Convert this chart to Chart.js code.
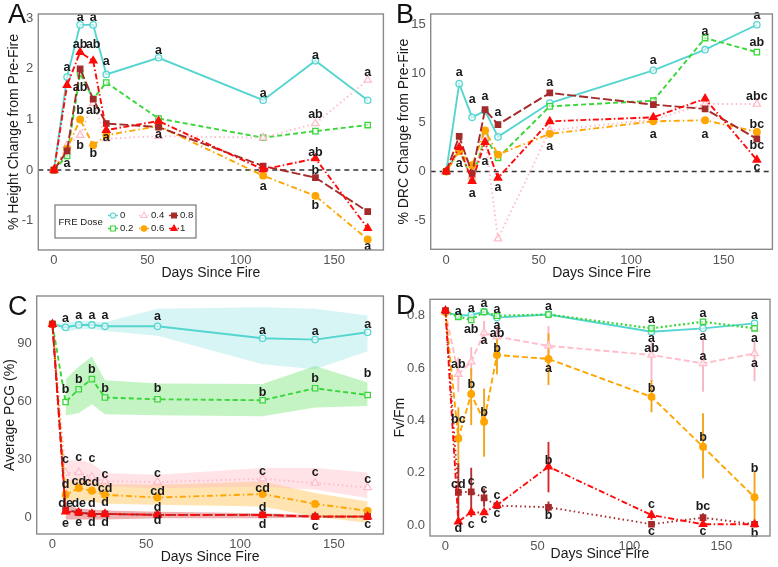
<!DOCTYPE html>
<html>
<head>
<meta charset="utf-8">
<script src="https://cdn.jsdelivr.net/npm/chart.js@4.4.1/dist/chart.umd.min.js"></script>
<style>
  body { margin: 0; background: #fff; width: 778px; height: 567px; position: relative; overflow: hidden;
         font-family: "Liberation Sans", Arial, sans-serif; }
  canvas { position: absolute; }
  .tag { position: absolute; font-size: 27px; line-height: 1; color: #111; }
</style>
</head>
<body>
<canvas id="chartA" width="389" height="280" style="left:0;top:0"></canvas>
<canvas id="chartB" width="389" height="280" style="left:389px;top:0"></canvas>
<canvas id="chartC" width="389" height="287" style="left:0;top:280px"></canvas>
<canvas id="chartD" width="389" height="287" style="left:389px;top:280px"></canvas>
<div class="tag" style="left:8px;top:1px">A</div>
<div class="tag" style="left:396px;top:1px">B</div>
<div class="tag" style="left:8px;top:293px">C</div>
<div class="tag" style="left:396px;top:292px">D</div>
<script>
// --- data ---
const days = [0, 7, 14, 21, 28, 56, 112, 140, 168];
const dayTicks = [0, 50, 100, 150];
const doseLabels = ['0', '0.2', '0.4', '0.6', '0.8', '1'];

// A: % height change
const heightTicks = [-1, 0, 1, 2, 3];
const height0  = [0, 1.84, 2.87, 2.87, 1.89, 2.22, 1.38, 2.16, 1.38];
const height02 = [0, 0.28, 1.91, 1.41, 1.73, 1.02, 0.64, 0.77, 0.89];
const height04 = [0, 0.49, 0.69, 1.32, 0.62, 0.67, 0.64, 0.92, 1.78];
const height06 = [0, 0.42, 1.00, 0.49, 0.69, 0.87, -0.11, -0.51, -1.37];
const height08 = [0, 0.38, 2.00, 1.40, 0.92, 0.85, 0.08, -0.15, -0.82];
const height1  = [0, 1.68, 2.33, 2.16, 0.79, 0.97, 0.01, 0.23, -1.15];
const heightLetters = [
  [7, 2.03, 'a'], [7, 0.12, 'a'],
  [14, 3.02, 'a'], [14, 2.48, 'ab'], [14, 1.64, 'ab'], [14, 1.18, 'b'], [14, 0.48, 'b'],
  [21, 3.02, 'a'], [21, 2.48, 'ab'], [21, 1.18, 'ab'], [21, 0.33, 'b'],
  [28, 2.14, 'a'], [28, 0.65, 'a'],
  [56, 2.37, 'a'], [56, 0.71, 'a'],
  [112, 1.51, 'a'], [112, -0.32, 'a'],
  [140, 2.27, 'a'], [140, 1.10, 'ab'], [140, 0.34, 'ab'], [140, 0.0, 'b'], [140, -0.70, 'b'],
  [168, 1.93, 'a'], [168, -1.52, 'a']
];

// B: % DRC change
const drcTicks = [-5, 0, 5, 10, 15];
const drc0  = [0, 8.98, 5.54, 6.20, 3.54, 7.00, 10.34, 12.45, 15.0];
const drc02 = [0, 2.20, -0.82, 3.60, 1.40, 6.66, 7.24, 13.64, 12.2];
const drc04 = [0, 2.30, -0.50, 3.50, -6.87, 4.20, 5.30, 6.90, 6.90];
const drc06 = [0, 2.07, 0.65, 4.20, 1.73, 3.85, 5.13, 5.24, 4.05];
const drc08 = [0, 3.60, -0.20, 6.33, 4.80, 8.03, 6.84, 6.40, 3.33];
const drc1  = [0, 2.48, -0.98, 3.00, -0.65, 5.13, 5.54, 7.45, 1.19];
const drcLetters = [
  [7, 10.13, 'a'], [7, 0.79, 'a'], [14, 7.35, 'a'], [14, -2.24, 'a'],
  [21, 7.68, 'a'], [21, 0.99, 'a'], [28, 5.99, 'a'], [28, -1.66, 'a'],
  [56, 9.11, 'a'], [56, 2.58, 'a'], [112, 11.33, 'a'], [112, 3.78, 'a'],
  [140, 14.32, 'a'], [140, 3.78, 'a'],
  [168, 15.92, 'a'], [168, 13.23, 'ab'], [168, 7.68, 'abc'], [168, 4.8, 'bc'], [168, 2.65, 'bc'], [168, 0.38, 'c']
];

// C: average PCG, with ribbons (ribbons start at day 7 except dose 0)
const pcgTicks = [0, 30, 60, 90];
const pcg0  = [100, 98.4, 99.6, 99.6, 98.9, 98.9, 92.7, 92.0, 95.8];
const pcg02 = [100, 59.7, 66.3, 71.5, 62.0, 61.1, 60.6, 66.8, 63.3];
const pcg04 = [100, 22.9, 23.2, 20.8, 18.6, 18.2, 19.9, 17.7, 15.4];
const pcg06 = [100, 11.6, 15.1, 13.7, 11.6, 10.2, 12.0, 6.9, 3.3];
const pcg08 = [100, 3.8, 2.4, 1.7, 1.7, 1.2, 1.2, 0.3, 0.3];
const pcg1  = [100, 2.9, 2.4, 1.7, 1.7, 1.2, 1.2, 0.3, 0.3];
const pcg0Hi  = [100, 101, 101.5, 101.5, 101, 108, 108.8, 108, 104.5];
const pcg0Lo  = [100, 96, 97.5, 97.5, 96.5, 94, 79.3, 76.7, 86];
const pcg02Hi = [71.5, 78, 83.3, 71, 69.3, 69, 78.4, 69.8];
const pcg02Lo = [52.7, 54, 58.5, 53.3, 52.8, 52.3, 56.8, 57.6];
const pcg04Hi = [29, 29.8, 28, 22.9, 22, 25.5, 25.5, 23.2];
const pcg04Lo = [18.5, 17.7, 16, 15.9, 15, 15.9, 14.2, 9.9];
const pcg06Hi = [18.5, 20.3, 19, 17.2, 16.8, 18.5, 12.6, 8.1];
const pcg06Lo = [8, 8.8, 8, 7, 6.4, 5.5, 0.3, -2.9];
const pcg1Hi  = [6.4, 4.5, 4, 3.5, 2.8, 2, 1.2, 1.2];
const pcg1Lo  = [-1.2, -1.2, -1.2, -1.2, -0.6, -0.5, -0.3, -0.3];
const pcgLetters = [
  [7, 102.8, 'a'], [7, 66.3, 'b'], [7, 29.8, 'c'], [7, 16.8, 'd'], [7, 7.3, 'de'], [7, -3.1, 'e'],
  [14, 104.3, 'a'], [14, 71.5, 'b'], [14, 30.7, 'c'], [14, 18.5, 'cd'], [14, 7.3, 'de'], [14, -2.6, 'e'],
  [21, 104.3, 'a'], [21, 76.4, 'b'], [21, 30.4, 'c'], [21, 17.7, 'cd'], [21, 6.9, 'd'], [21, -2.6, 'd'],
  [28, 104.3, 'a'], [28, 66.8, 'b'], [28, 22, 'c'], [28, 15.1, 'cd'], [28, 7.6, 'd'], [28, -2.6, 'd'],
  [56, 104, 'a'], [56, 66.8, 'b'], [56, 22.4, 'c'], [56, 13.3, 'cd'], [56, 5, 'd'], [56, -1.8, 'd'],
  [112, 96.7, 'a'], [112, 64.6, 'b'], [112, 23.8, 'c'], [112, 15.1, 'cd'], [112, 5, 'd'], [112, -3.7, 'd'],
  [140, 96.3, 'a'], [140, 71.9, 'b'], [140, 22.9, 'c'], [140, -4.9, 'c'],
  [168, 99.6, 'a'], [168, 74.6, 'b'], [168, 19.4, 'c'], [168, -4, 'c']
];

// D: Fv/Fm, with error bars (null = none)
const fvTicks = [0, 0.2, 0.4, 0.6, 0.8];
const fv0  = [0.815, 0.800, 0.803, 0.815, 0.793, 0.805, 0.739, 0.752, 0.771];
const fv02 = [0.815, 0.796, 0.784, 0.815, 0.800, 0.805, 0.752, 0.777, 0.752];
const fv04 = [0.815, 0.577, 0.624, 0.735, 0.720, 0.685, 0.650, 0.618, 0.656];
const fv06 = [0.815, 0.331, 0.501, 0.395, 0.650, 0.635, 0.490, 0.299, 0.106];
const fv08 = [0.820, 0.125, 0.127, 0.104, 0.074, 0.068, 0.003, 0.028, 0.003];
const fv1  = [0.820, 0.013, 0.048, 0.048, 0.076, 0.223, 0.038, 0.003, 0.003];
const fv04Lo = [null, 0.51, 0.57, 0.70, 0.68, 0.60, 0.55, 0.51, 0.55];
const fv04Hi = [null, 0.64, 0.68, 0.78, 0.76, 0.76, 0.70, 0.714, 0.70];
const fv06Lo = [null, 0.20, 0.382, 0.261, 0.576, 0.535, 0.431, 0.179, 0.0];
const fv06Hi = [null, 0.45, 0.599, 0.522, 0.72, 0.733, 0.554, 0.427, 0.204];
const fv08Lo = [null, 0.013, 0.038, 0.07, 0.06, 0.045, -0.005, 0.01, null];
const fv08Hi = [null, 0.236, 0.219, 0.14, 0.09, 0.09, 0.01, 0.045, null];
const fv1Lo  = [null, null, 0.03, null, null, 0.125, 0.02, null, null];
const fv1Hi  = [null, null, 0.065, null, null, 0.318, 0.055, null, null];
const fvLetters = [
  [7, 0.815, 'a'], [7, 0.612, 'ab'], [7, 0.405, 'bc'], [7, 0.156, 'cd'], [7, -0.013, 'd'],
  [14, 0.826, 'a'], [14, 0.749, 'ab'], [14, 0.538, 'b'], [14, 0.166, 'c'], [14, 0.0, 'c'],
  [21, 0.847, 'a'], [21, 0.707, 'a'], [21, 0.431, 'b'], [21, 0.134, 'c'], [21, 0.019, 'c'],
  [28, 0.822, 'a'], [28, 0.762, 'a'], [28, 0.733, 'ab'], [28, 0.673, 'b'], [28, 0.112, 'c'], [28, 0.042, 'c'],
  [56, 0.834, 'a'], [56, 0.599, 'a'], [56, 0.246, 'b'], [56, 0.038, 'b'],
  [112, 0.784, 'a'], [112, 0.714, 'a'], [112, 0.675, 'ab'], [112, 0.522, 'b'], [112, 0.08, 'c'], [112, -0.025, 'c'],
  [140, 0.809, 'a'], [140, 0.72, 'a'], [140, 0.643, 'a'], [140, 0.335, 'b'], [140, 0.07, 'bc'], [140, -0.025, 'c'],
  [168, 0.8, 'a'], [168, 0.714, 'a'], [168, 0.618, 'a'], [168, 0.217, 'b'], [168, -0.032, 'b']
];

// --- styles ---
const doseColors = ['#55d5cf', '#3ad63a', '#ffbdc9', '#ffa500', '#a52a2a', '#ff0a0a'];
const dosePoints = ['circle', 'rect', 'triangle', 'circle', 'rect', 'triangle'];
const doseFilled = [false, false, false, true, true, true];
const doseRadius = [3.2, 3.8, 4.3, 3.3, 3.8, 4.3];
const ribbonColors = ['rgba(72,209,204,0.22)', 'rgba(60,215,60,0.3)', 'rgba(255,182,193,0.38)',
                      'rgba(255,165,0,0.3)', 'rgba(205,30,30,0.35)'];
const dashSolid = [], dashed = [5, 3], dotted = [1.5, 3], dotdash = [1.5, 3, 6, 3], longdash = [9, 3], twodash = [6, 2.5, 1.5, 2.5];

Chart.defaults.font.family = '"Liberation Sans", Arial, sans-serif';

function series(i, values, dash, width) {
  return {
    label: doseLabels[i],
    data: days.map((d, k) => ({ x: d, y: values[k] })),
    borderColor: doseColors[i],
    borderWidth: width || 1.9,
    borderDash: dash,
    pointStyle: dosePoints[i],
    pointRadius: doseRadius[i],
    pointBorderColor: doseColors[i],
    pointBackgroundColor: doseFilled[i] ? doseColors[i] : 'rgba(255,255,255,0.6)',
    pointBorderWidth: 1.3,
    fill: false,
    tension: 0,
    order: 6 - i
  };
}

function ribbon(color, xs, hi, lo) {
  return [
    { data: xs.map((d, k) => ({ x: d, y: hi[k] })), borderWidth: 0, pointRadius: 0,
      backgroundColor: color, fill: '+1', order: 20 },
    { data: xs.map((d, k) => ({ x: d, y: lo[k] })), borderWidth: 0, pointRadius: 0,
      backgroundColor: color, fill: false, order: 20 }
  ];
}

function xAxis(titlePad) {
  return {
    type: 'linear', min: -8.4, max: 176.4,
    afterBuildTicks: s => { s.ticks = dayTicks.map(v => ({ value: v })); },
    grid: { display: false, drawTicks: false }, border: { display: false },
    ticks: { color: '#555', font: { size: 13 }, padding: 3, maxRotation: 0 },
    title: { display: true, text: 'Days Since Fire', color: '#1a1a1a',
             font: { size: 14, lineHeight: 1 }, padding: { top: 0, bottom: titlePad } }
  };
}

function yAxis(min, max, ticks, text, width, titlePad, fmt) {
  return {
    type: 'linear', min: min, max: max,
    afterBuildTicks: s => { s.ticks = ticks.map(v => ({ value: v })); },
    afterFit: s => { s.width = width; },
    grid: { display: false, drawTicks: false }, border: { display: false },
    ticks: { color: '#555', font: { size: 13 }, padding: 5, callback: fmt || (v => String(v)) },
    title: { display: true, text: text, color: '#1a1a1a',
             font: { size: 14, lineHeight: 1 }, padding: { top: titlePad, bottom: 0 } }
  };
}

function framePlugin(zeroLine) {
  return {
    id: 'frame',
    beforeDatasetsDraw(chart) {
      if (!zeroLine) return;
      const { ctx, chartArea: a, scales: { y } } = chart;
      const py = y.getPixelForValue(0);
      ctx.save();
      ctx.strokeStyle = '#333'; ctx.lineWidth = 1.6; ctx.setLineDash([5, 4]);
      ctx.beginPath(); ctx.moveTo(a.left, py); ctx.lineTo(a.right, py); ctx.stroke();
      ctx.restore();
    },
    afterDraw(chart) {
      const { ctx, chartArea: a } = chart;
      ctx.save();
      ctx.strokeStyle = '#8a8a8a'; ctx.lineWidth = 1.4;
      ctx.strokeRect(a.left, a.top, a.right - a.left, a.bottom - a.top);
      ctx.restore();
    }
  };
}

function letterPlugin(list) {
  return {
    id: 'letters',
    afterDatasetsDraw(chart) {
      const { ctx, scales: { x, y } } = chart;
      ctx.save();
      ctx.font = 'bold 12.5px "Liberation Sans", Arial, sans-serif';
      ctx.fillStyle = '#1a1a1a'; ctx.textAlign = 'center'; ctx.textBaseline = 'middle';
      list.forEach(([d, v, t]) => ctx.fillText(t, x.getPixelForValue(d), y.getPixelForValue(v)));
      ctx.restore();
    }
  };
}

function errorPlugin(bars) {
  return {
    id: 'errorbars',
    beforeDatasetsDraw(chart) {
      const { ctx, scales: { x, y } } = chart;
      ctx.save();
      ctx.lineWidth = 1.9;
      bars.forEach(([color, lo, hi]) => {
        ctx.strokeStyle = color;
        days.forEach((d, k) => {
          if (lo[k] === null) return;
          const px = x.getPixelForValue(d);
          ctx.beginPath();
          ctx.moveTo(px, y.getPixelForValue(lo[k]));
          ctx.lineTo(px, y.getPixelForValue(hi[k]));
          ctx.stroke();
        });
      });
      ctx.restore();
    }
  };
}

function drawMarker(ctx, i, x, y) {
  const r = doseRadius[i] * 0.8;
  ctx.beginPath();
  if (dosePoints[i] === 'circle') ctx.arc(x, y, r, 0, Math.PI * 2);
  else if (dosePoints[i] === 'rect') ctx.rect(x - r * 0.8, y - r * 0.8, r * 1.6, r * 1.6);
  else { ctx.moveTo(x, y - r); ctx.lineTo(x + r * 0.9, y + r * 0.6); ctx.lineTo(x - r * 0.9, y + r * 0.6); ctx.closePath(); }
  ctx.fillStyle = doseFilled[i] ? doseColors[i] : '#fff';
  ctx.fill();
  ctx.strokeStyle = doseColors[i]; ctx.lineWidth = 1.1;
  ctx.stroke();
}

const legendPlugin = {
  id: 'doseLegend',
  afterDraw(chart) {
    const ctx = chart.ctx;
    const dashes = [dashSolid, dashed, dotted, dotdash, longdash, twodash];
    const cols = [[113, 120], [144, 151], [174, 180]];
    const rows = [215.5, 228.5];
    ctx.save();
    ctx.fillStyle = '#fff'; ctx.fillRect(55, 205, 141, 33);
    ctx.strokeStyle = '#777'; ctx.lineWidth = 1.2; ctx.strokeRect(55, 205, 141, 33);
    ctx.font = '9.6px "Liberation Sans", Arial, sans-serif';
    ctx.fillStyle = '#222'; ctx.textBaseline = 'middle'; ctx.textAlign = 'left';
    ctx.fillText('FRE Dose', 58.5, 222);
    const order = [[0, 0], [2, 0], [4, 0], [1, 1], [3, 1], [5, 1]];
    order.forEach(([i, row], n) => {
      const [sx, tx] = cols[n % 3];
      const py = rows[row];
      ctx.strokeStyle = doseColors[i]; ctx.lineWidth = 1.4; ctx.setLineDash(dashes[i]);
      ctx.beginPath(); ctx.moveTo(sx - 5, py); ctx.lineTo(sx + 5, py); ctx.stroke();
      ctx.setLineDash([]);
      drawMarker(ctx, i, sx, py);
      ctx.fillStyle = '#222';
      ctx.fillText(doseLabels[i], tx, py);
    });
    ctx.restore();
  }
};

function makeChart(id, datasets, scales, padding, plugins) {
  new Chart(document.getElementById(id), {
    type: 'line',
    data: { datasets: datasets },
    options: {
      responsive: false, animation: false,
      layout: { padding: padding },
      scales: scales,
      plugins: { legend: { display: false }, tooltip: { enabled: false } }
    },
    plugins: plugins
  });
}

// --- panel A ---
makeChart('chartA', [
  series(0, height0, dashSolid), series(1, height02, dashed), series(2, height04, dotted),
  series(3, height06, dotdash), series(4, height08, longdash), series(5, height1, twodash)
], {
  x: Object.assign(xAxis(0), { afterFit: s => { s.height = 30; } }),
  y: yAxis(-1.58, 3.085, heightTicks, '% Height Change from Pre-Fire', 38.3, 7)
}, { top: 14, right: 0.7, left: 0, bottom: 0 }, [framePlugin(true), letterPlugin(heightLetters), legendPlugin]);

// --- panel B ---
makeChart('chartB', [
  series(0, drc0, dashSolid), series(1, drc02, dashed), series(2, drc04, dotted),
  series(3, drc06, dotdash), series(4, drc08, longdash), series(5, drc1, twodash)
], {
  x: Object.assign(xAxis(0), { afterFit: s => { s.height = 30.7; } }),
  y: yAxis(-7.95, 16.1, drcTicks, '% DRC Change from Pre-Fire', 41.7, 8)
}, { top: 14, right: 1.3, left: 0, bottom: 0 }, [framePlugin(true), letterPlugin(drcLetters)]);

// --- panel C ---
const ribbonDays = days.slice(1);
makeChart('chartC', [
  ...ribbon(ribbonColors[0], days, pcg0Hi, pcg0Lo),
  ...ribbon(ribbonColors[1], ribbonDays, pcg02Hi, pcg02Lo),
  ...ribbon(ribbonColors[2], ribbonDays, pcg04Hi, pcg04Lo),
  ...ribbon(ribbonColors[3], ribbonDays, pcg06Hi, pcg06Lo),
  ...ribbon(ribbonColors[4], ribbonDays, pcg1Hi, pcg1Lo),
  series(0, pcg0, dashSolid), series(1, pcg02, dashed), series(2, pcg04, dotted),
  series(3, pcg06, dotdash), series(4, pcg08, longdash), series(5, pcg1, twodash)
], {
  x: Object.assign(xAxis(3), { afterFit: s => { s.height = 33; } }),
  y: yAxis(-8.7, 114.6, pcgTicks, 'Average PCG (%)', 36.7, 3)
}, { top: 16, right: 2.3, left: 0, bottom: 0 }, [framePlugin(false), letterPlugin(pcgLetters)]);

// --- panel D ---
makeChart('chartD', [
  series(0, fv0, dashSolid), series(1, fv02, [2, 2.5], 2.2), series(2, fv04, [6, 3]),
  series(3, fv06, [6, 3]), series(4, fv08, [1.5, 3]), series(5, fv1, twodash)
], {
  x: Object.assign(xAxis(6), { afterFit: s => { s.height = 31; } }),
  y: yAxis(-0.042, 0.863, fvTicks, 'Fv/Fm', 41, 4, v => v.toFixed(1))
}, { top: 19.3, right: 8, left: 0, bottom: 0 }, [
  errorPlugin([['#f9b6c3', fv04Lo, fv04Hi], ['#f2a51c', fv06Lo, fv06Hi],
               ['#b23232', fv08Lo, fv08Hi], ['#d42a2a', fv1Lo, fv1Hi]]),
  framePlugin(false), letterPlugin(fvLetters)
]);
</script>
</body>
</html>
